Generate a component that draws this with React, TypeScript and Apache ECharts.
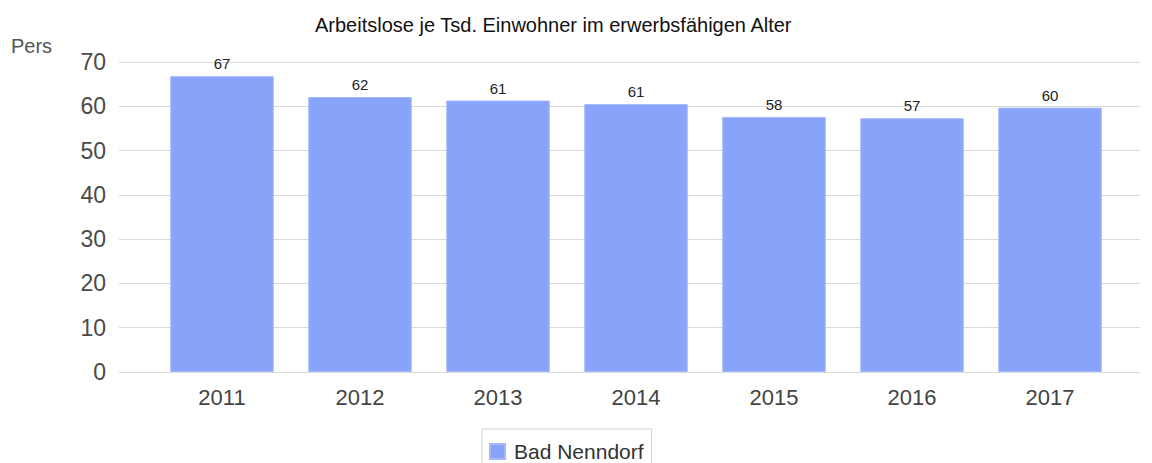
import React, { useEffect, useRef } from "react";
import * as echarts from "echarts";

const categories = ["2011", "2012", "2013", "2014", "2015", "2016", "2017"];
const values = [66.8, 62.1, 61.3, 60.5, 57.6, 57.3, 59.7];
const yTicks = [0, 10, 20, 30, 40, 50, 60, 70];
const seriesName = "Bad Nenndorf";
const titleText = "Arbeitslose je Tsd. Einwohner im erwerbsfähigen Alter";
const unitText = "Pers";

export default function App() {
  const ref = useRef<HTMLDivElement>(null);
  useEffect(() => {
    if (!ref.current) return;
    const chart = echarts.init(ref.current, null, { renderer: "svg" });
    const yMax = yTicks[yTicks.length - 1];
    const yInterval = yTicks[1] - yTicks[0];
    chart.setOption({
      animation: false,
      backgroundColor: "#ffffff",
      title: {
        text: titleText,
        left: 310,
        top: 10,
        textStyle: { fontFamily: "Liberation Sans", fontSize: 20, fontWeight: "normal", color: "#111" },
      },
      graphic: [
        {
          type: "text",
          left: 11,
          top: 36,
          style: { text: unitText, font: '20px "Liberation Sans"', fill: "#555" },
        },
      ],
      legend: {
        data: [seriesName],
        left: 482,
        top: 429,
        padding: [12, 8, 12, 7],
        borderColor: "#d0d0d0",
        borderWidth: 1,
        borderRadius: 0,
        itemWidth: 15,
        itemHeight: 15,
        itemGap: 6,
        icon: "rect",
        textStyle: { fontFamily: "Liberation Sans", fontSize: 21, color: "#333", padding: [0, 0, 0, 4] },
      },
      grid: [
        { left: 119, right: 12, top: 62, bottom: 91 },
        { left: 153, right: 33, top: 62, bottom: 91 },
      ],
      xAxis: [
        { type: "category", gridIndex: 0, data: categories, show: false },
        {
          type: "category",
          gridIndex: 1,
          data: categories,
          axisLine: { show: false },
          axisTick: { show: false },
          axisLabel: { fontFamily: "Liberation Sans", fontSize: 22, color: "#444", margin: 14 },
        },
      ],
      yAxis: [
        {
          type: "value",
          gridIndex: 0,
          min: 0,
          max: yMax,
          interval: yInterval,
          axisLine: { show: false },
          axisTick: { show: false },
          splitLine: { lineStyle: { color: "#d9d9d9", width: 1 } },
          axisLabel: { fontFamily: "Liberation Sans", fontSize: 23, color: "#4a4a4a", margin: 13 },
        },
        {
          type: "value",
          gridIndex: 1,
          min: 0,
          max: yMax,
          interval: yInterval,
          show: false,
          splitLine: { show: false },
        },
      ],
      series: [
        {
          name: seriesName,
          type: "bar",
          xAxisIndex: 1,
          yAxisIndex: 1,
          data: values,
          barCategoryGap: "25%",
          itemStyle: { color: "#88a4fa", borderColor: "#a4b8fb", borderWidth: 1 },
          label: {
            show: true,
            position: "top",
            distance: 5,
            fontFamily: "Liberation Sans",
            fontSize: 15,
            color: "#222",
            formatter: (p: any) => String(Math.round(p.value)),
          },
        },
      ],
    });
    return () => chart.dispose();
  }, []);
  return <div ref={ref} style={{ position: "fixed", left: 0, top: 0, width: 1152, height: 463 }} />;
}
